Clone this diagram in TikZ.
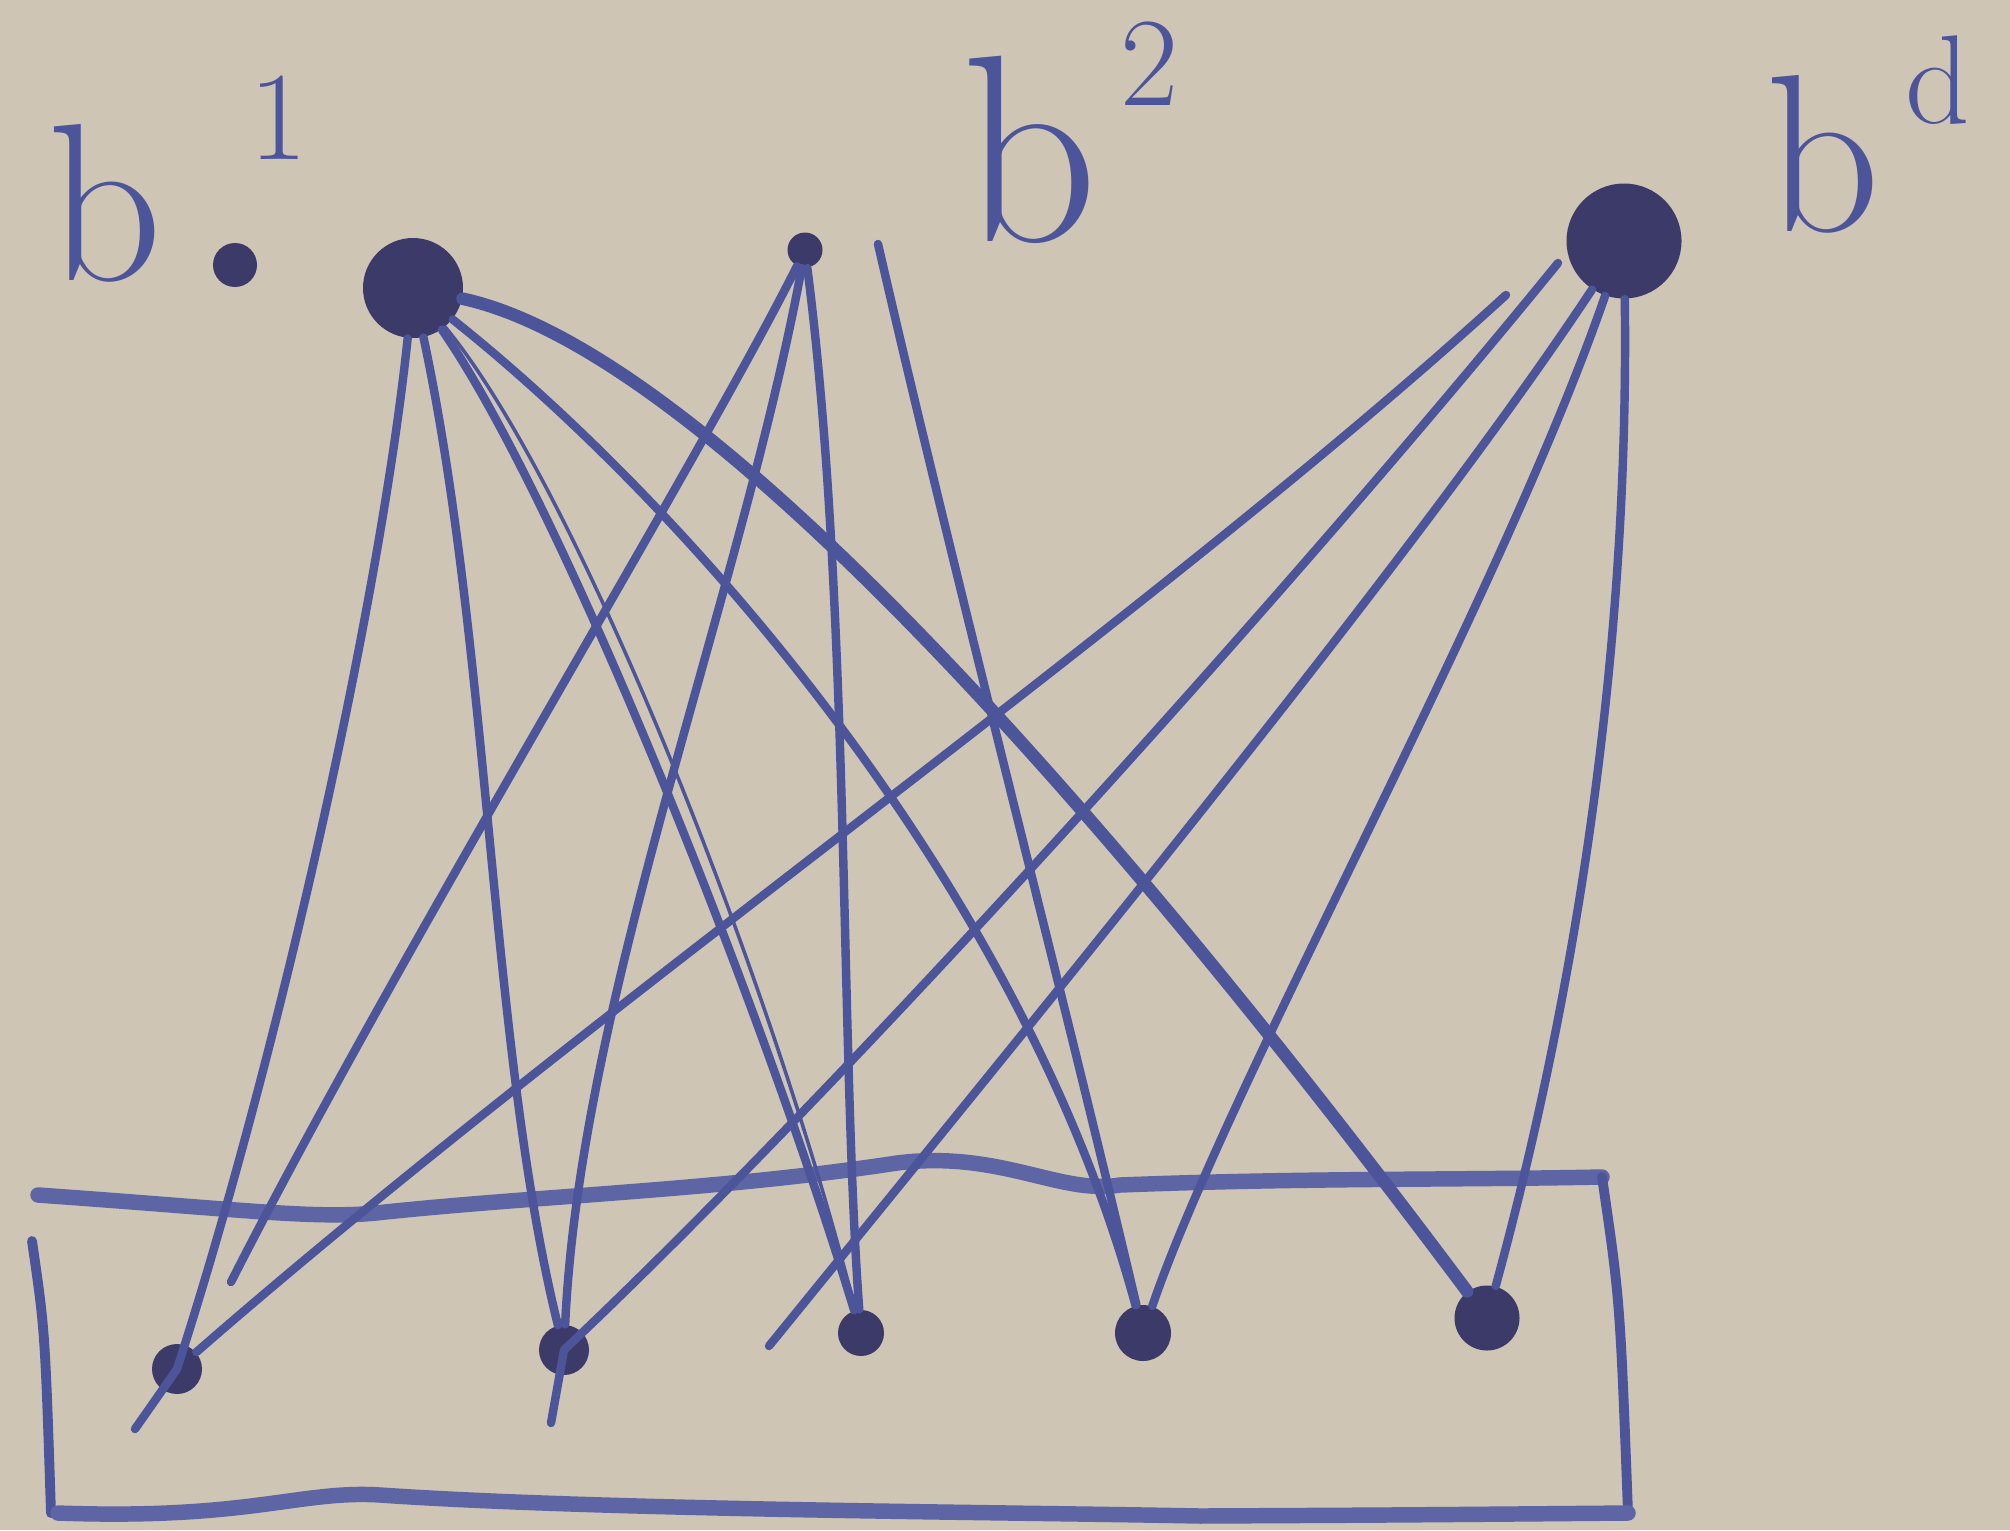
\documentclass[tikz,border=0pt]{standalone}
\definecolor{paper}{RGB}{206,197,181}
\definecolor{ink}{RGB}{76,84,154}
\definecolor{blot}{RGB}{60,58,104}
\begin{document}
\begin{tikzpicture}[line cap=round, line join=round,
  pen/.style={draw=ink, line width=2.4pt},
  heavy/.style={draw=ink, line width=3.6pt},
  hair/.style={draw=ink, line width=1pt},
  frame/.style={draw=ink!90, line width=4.4pt},
  side/.style={draw=ink, line width=2.8pt},
  blob/.style={circle, fill=blot, inner sep=0pt, minimum size=#1},
  letter/.style={text=ink, font=\fontsize{64}{64}\selectfont, inner sep=0pt},
  sup/.style={text=ink, font=\fontsize{36}{36}\selectfont, inner sep=0pt}]
\fill[paper] (0,0) rectangle (20.1,-15.3);
\useasboundingbox (0,0) rectangle (20.1,-15.3);
\node[letter] (lb1) at (1.05,-2.03) {b};
\node[sup] (ls1) at (2.79,-1.18) {1};
\node[letter, font=\fontsize{76}{76}\selectfont] (lb2) at (10.30,-1.50) {b};
\node[sup] (ls2) at (11.50,-0.64) {2};
\node[letter] (lbd) at (18.23,-1.54) {b};
\node[sup] (lsd) at (19.38,-0.80) {d};
\node[blob=4.4mm] (b0) at (2.35,-2.65) {};
\node[blob=10mm] (B1) at (4.13,-2.88) {};
\node[blob=3.5mm] (B2) at (8.05,-2.50) {};
\node[blob=11.5mm] (Bd) at (16.24,-2.41) {};
\node[blob=5mm] (P1) at (1.77,-13.69) {};
\node[blob=5mm] (P2) at (5.64,-13.50) {};
\node[blob=4.6mm] (P3) at (8.61,-13.33) {};
\node[blob=5.6mm] (P4) at (11.43,-13.33) {};
\node[blob=6.5mm] (P5) at (14.87,-13.18) {};
\coordinate (e1) at (1.35,-14.29);
\coordinate (e2) at (5.51,-14.23);
\coordinate (f1) at (2.31,-12.82);
\coordinate (f3) at (7.69,-13.46);
\coordinate (t2) at (8.78,-2.44);
\coordinate (ta) at (15.06,-2.95);
\coordinate (tb) at (15.58,-2.63);
\draw[frame] (0.38,-11.95) .. controls (2.5,-12.1) and (3.2,-12.2) .. (3.85,-12.12)
  .. controls (5.5,-11.95) and (7.2,-11.9) .. (8.97,-11.63)
  .. controls (10,-11.5) and (10.6,-11.95) .. (11.2,-11.85)
  .. controls (13,-11.78) and (14.5,-11.8) .. (16.02,-11.77);
\draw[side] (0.32,-12.41) .. controls (0.45,-13.3) .. (0.51,-15.13);
\draw[side] (16.02,-11.77) .. controls (16.2,-13) .. (16.28,-15.13);
\draw[frame] (0.58,-15.13) .. controls (2.5,-15.2) and (3,-14.9) .. (3.8,-14.95)
  .. controls (6,-15.1) and (10,-15.12) .. (12,-15.16)
  .. controls (14,-15.15) .. (16.28,-15.13);
\draw[pen] (B1) .. controls (3.8,-6) and (2.8,-10.5) .. (P1.center) -- (e1);
\draw[pen] (B1) .. controls (4.9,-6.5) and (4.9,-10.5) .. (P2);
\draw[pen] (B1) .. controls (5.6,-5.0) and (7.6,-10.0) .. (P3);
\draw[hair] (B1) .. controls (5.8,-4.9) and (7.75,-9.9) .. (P3);
\draw[pen] (B1) .. controls (6.8,-5.0) and (10.2,-8.8) .. (P4);
\draw[heavy] (B1) .. controls (7.0,-3.5) and (11.0,-8.0) .. (P5);
\draw[pen] (B2) .. controls (7.0,-4.6) and (4.0,-9.5) .. (f1);
\draw[pen] (B2) .. controls (7.4,-6.0) and (5.8,-10) .. (P2);
\draw[pen] (B2) .. controls (8.5,-6) and (8.4,-10.5) .. (P3);
\draw[pen] (t2) .. controls (9.6,-6) and (10.6,-9.8) .. (P4);
\draw[pen] (ta) .. controls (11.5,-6.2) and (6,-10) .. (P1);
\draw[pen] (tb) .. controls (13,-5.8) and (8.5,-10.8) .. (P2.center) -- (e2);
\draw[pen] (Bd) .. controls (14.2,-5.5) and (10.5,-10) .. (f3);
\draw[pen] (Bd) .. controls (15.0,-6) and (12.3,-10.8) .. (P4);
\draw[pen] (Bd) .. controls (16.3,-7) and (15.6,-10.5) .. (P5);
\end{tikzpicture}
\end{document}
